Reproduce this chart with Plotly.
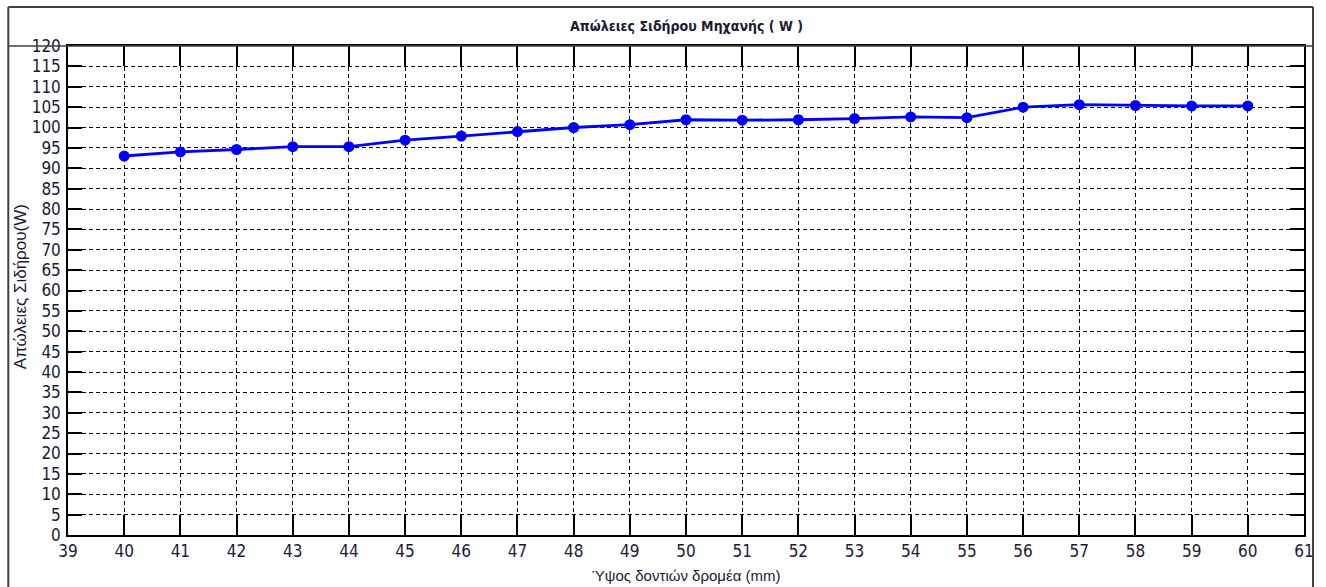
import plotly.graph_objects as go

# Iron losses of the machine versus rotor tooth height
tooth_height_mm = [40, 41, 42, 43, 44, 45, 46, 47, 48, 49, 50,
                   51, 52, 53, 54, 55, 56, 57, 58, 59, 60]
iron_losses_w = [93.0, 94.0, 94.6, 95.3, 95.3, 96.9, 97.9, 99.0, 100.0, 100.7, 101.9,
                 101.8, 101.9, 102.2, 102.6, 102.4, 105.0, 105.6, 105.4, 105.3, 105.3]

x_ticks = list(range(39, 62))
y_ticks = list(range(0, 121, 5))

title_text = "Απώλειες Σιδήρου Μηχανής ( W )"
x_title = "Ύψος δοντιών δρομέα (mm)"
y_title = "Απώλειες Σιδήρου(W)"

narrow = "Liberation Sans Narrow, DejaVu Sans Condensed, Liberation Sans"
text_col = "#1a1a33"
tick_font = dict(family=narrow, size=17, color=text_col)

fig = go.Figure()
fig.add_trace(go.Scatter(
    x=tooth_height_mm, y=iron_losses_w,
    mode="lines+markers",
    line=dict(color="#0000ff", width=2.8),
    marker=dict(color="#0000ff", size=11, symbol="circle"),
    showlegend=False,
))

axis_common = dict(
    showline=True, linecolor="black", linewidth=1.5, mirror="allticks",
    ticks="inside", tickcolor="black", tickwidth=1.5,
    showgrid=True, gridcolor="black", gridwidth=1, griddash="4px,3px",
    zeroline=False, tickfont=tick_font,
)

fig.update_xaxes(range=[39, 61], tickvals=x_ticks, ticklen=20, **axis_common)
fig.update_yaxes(range=[0, 120], tickvals=y_ticks, ticklen=14, ticklabelstandoff=2, **axis_common)

# Outer figure frame with a band for the title
frame_col = "#404040"
fig.add_shape(type="line", xref="paper", yref="paper", x0=-0.0483, x1=-0.0483, y0=1.0798, y1=-0.13,
              line=dict(color=frame_col, width=2))
fig.add_shape(type="line", xref="paper", yref="paper", x0=1.0073, x1=1.0073, y0=1.0798, y1=-0.13,
              line=dict(color=frame_col, width=2))
fig.add_shape(type="line", xref="paper", yref="paper", x0=-0.0483, x1=1.0073, y0=1.0798, y1=1.0798,
              line=dict(color=frame_col, width=2))
fig.add_shape(type="line", xref="paper", yref="paper", x0=-0.0483, x1=1.0073, y0=1.0, y1=1.0,
              line=dict(color=frame_col, width=1.5))

fig.add_annotation(text="<b>" + title_text + "</b>", xref="paper", yref="paper",
                   x=0.5, y=1.04, showarrow=False, yanchor="middle",
                   font=dict(family=narrow, size=14, color=text_col))
fig.add_annotation(text=x_title, xref="paper", yref="paper",
                   x=0.5, y=-0.0818, showarrow=False, yanchor="middle",
                   font=dict(family="Liberation Sans", size=15, color=text_col))
fig.add_annotation(text=y_title, xref="paper", yref="paper",
                   x=-0.0387, y=0.507, showarrow=False, textangle=-90, xanchor="center",
                   font=dict(family="Liberation Sans", size=17, color=text_col))

fig.update_layout(
    width=1326, height=587,
    margin=dict(l=68, r=17, t=46, b=52),
    paper_bgcolor="white", plot_bgcolor="white",
)

fig.write_html("out.html")
